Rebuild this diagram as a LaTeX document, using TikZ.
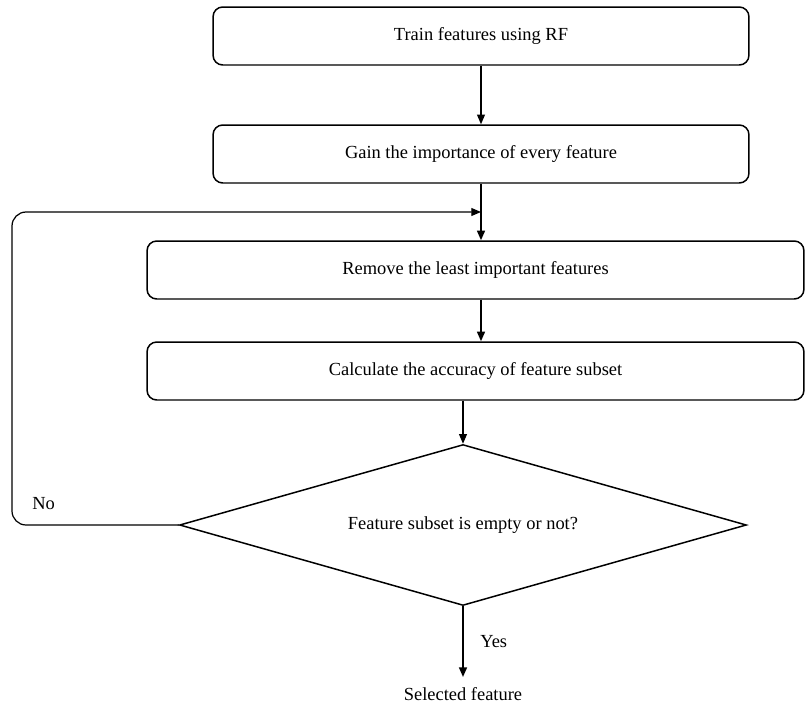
\documentclass[tikz,border=0pt]{standalone}
\usepackage{fontspec}
\setmainfont{Liberation Serif}
\usetikzlibrary{arrows.meta,shapes.geometric}
\begin{document}
\begin{tikzpicture}[x=0.02cm,y=-0.02cm,
  font=\fontsize{10.5}{12}\selectfont,
  procbox/.style={draw, line width=0.85pt, rounded corners=5.5pt, minimum height=1.16cm, inner sep=0pt},
  decbox/.style={draw, diamond, aspect=3.52, line width=0.85pt, minimum width=11.34cm, minimum height=3.22cm, inner sep=0pt},
  flowline/.style={-{Triangle[length=5.5pt,width=4.5pt]}, line width=0.7pt},
  boldline/.style={flowline, line width=1.05pt}]
\useasboundingbox (0,0) rectangle (805,707);
\node[procbox, minimum width=10.72cm] (train) at (481,36) {Train features using RF};
\node[procbox, minimum width=10.72cm] (gain) at (481,154) {Gain the importance of every feature};
\node[procbox, minimum width=13.14cm] (remove) at (475.5,270) {Remove the least important features};
\node[procbox, minimum width=13.14cm] (calc) at (475.5,371) {Calculate the accuracy of feature subset};
\node[decbox] (empty) at (463,525) {Feature subset is empty or not?};
\node[anchor=north, inner sep=6pt] (sel) at (463,677) {Selected feature};
\coordinate (loopTL) at (12,212);
% main flow
\draw[flowline] (train) -- (gain);
\draw[boldline] (gain.south) -- (gain.south |- remove.north);
\draw[boldline] (remove.south -| gain.south) -- (calc.north -| gain.south);
\draw[flowline] (empty.north |- calc.south) -- (empty.north);
\draw[boldline] (empty.south) -- node[right=6pt, midway] {Yes} (sel.north);
% back to removal
\draw[flowline, rounded corners=8pt] (empty.west) -- node[above=5pt, pos=0.81] {No} (empty.west -| loopTL) -- (loopTL) -- (loopTL -| gain.south);
\end{tikzpicture}
\end{document}
